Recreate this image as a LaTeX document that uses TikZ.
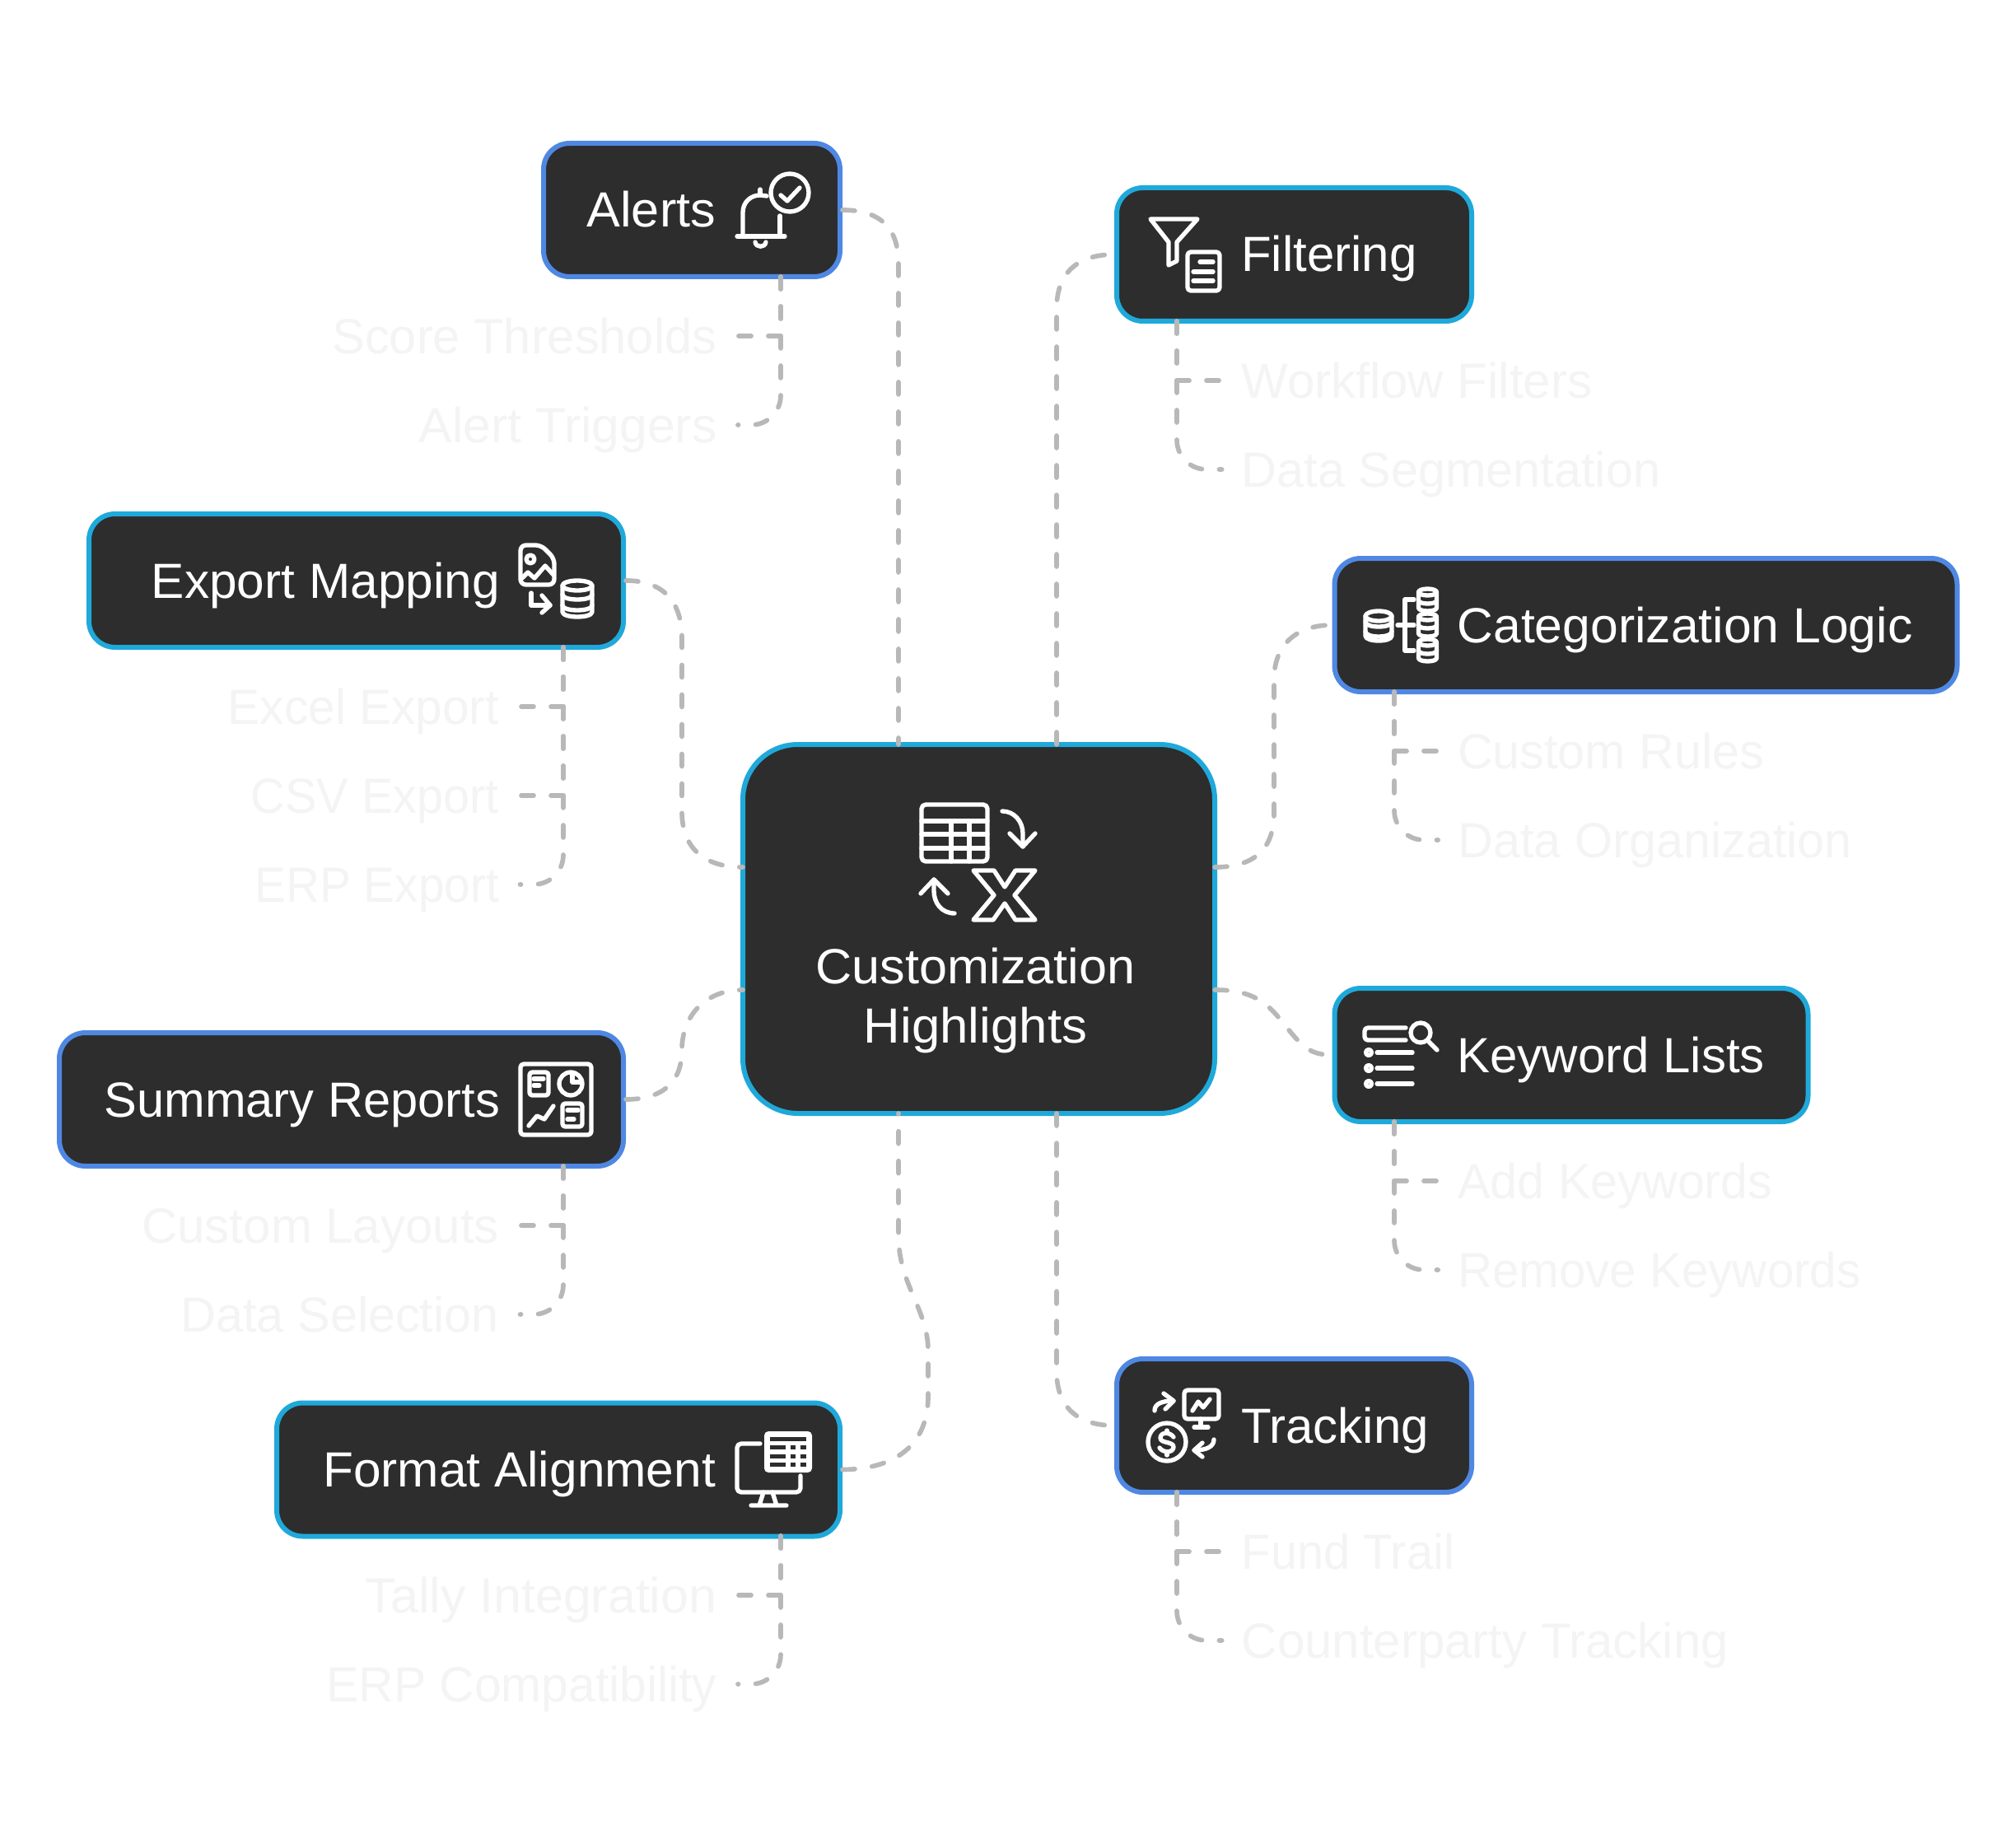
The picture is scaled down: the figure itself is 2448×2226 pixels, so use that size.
\documentclass[tikz,border=0pt]{standalone}
\usepackage{graphicx}
\usepackage{fontspec}
\setmainfont{Liberation Sans}
\definecolor{nodebg}{HTML}{2D2D2D}
\definecolor{blueedge}{HTML}{4F88E3}
\definecolor{cyanedge}{HTML}{1FA9DA}
\definecolor{linegray}{HTML}{B8B8B8}
\definecolor{fainttext}{HTML}{F4F4F4}
\newcommand\sx[2]{\scalebox{#1}[1]{#2}}
\newcommand\rtext[3]{\makebox[\dimexpr0.3pt*#1\relax][r]{#3\hspace{\dimexpr0.3pt*#2\relax}}}
\newcommand\ltext[3]{\makebox[\dimexpr0.3pt*#1\relax][l]{\hspace{\dimexpr0.3pt*#2\relax}#3}}
\newcommand\cyl[6]{%
  \draw[ic] ({#1},{#2+#5}) ellipse [x radius=#4,y radius=#5];
  \draw[ic] ({#1-#4},{#2+#5}) -- ({#1-#4},{#3-#5}) .. controls ({#1-#4},{#3+0.33*#5}) and ({#1+#4},{#3+0.33*#5}) .. ({#1+#4},{#3-#5}) -- ({#1+#4},{#2+#5});
  \foreach \yy in {#6} {\draw[ic] ({#1-#4},\yy) .. controls ({#1-#4},{\yy+1.33*#5}) and ({#1+#4},{\yy+1.33*#5}) .. ({#1+#4},\yy);}
}
\tikzset{
  tbox/.style={draw,fill=nodebg,line width=1.8pt,rounded corners=9.5pt,inner sep=0pt,minimum height=48.6pt,text=white,font=\fontsize{18}{21.6}\selectfont,text height=12.6pt,text depth=0pt},
  bluebox/.style={tbox,draw=blueedge},
  cyanbox/.style={tbox,draw=cyanedge},
  hubbox/.style={draw=cyanedge,fill=nodebg,line width=1.8pt,rounded corners=20pt,inner sep=0pt},
  hubtext/.style={text=white,font=\fontsize{18}{21.6}\selectfont,align=center,inner sep=0pt},
  faint/.style={text=fainttext,font=\fontsize{18}{21.6}\selectfont,inner sep=0pt,text height=12.6pt,text depth=0pt},
  conn/.style={draw=linegray,line width=1.7pt,line cap=round,dash pattern=on 4.5pt off 6.3pt},
  ic/.style={draw=white,line width=1.6pt,line cap=round,line join=round},
}
\begin{document}
\begin{tikzpicture}[x=0.3pt,y=-0.3pt]
\useasboundingbox (0,0) rectangle (2448,2226);
\fill[white] (0,0) rectangle (2448,2226);
% nodes
\node[hubbox,minimum width=171.9pt,minimum height=134.4pt] (hub) at (1188.5,1128) {};
\node[hubtext] (hubT) at (1184.5,1215) {\sx{1.02}{Customization}\\\sx{1.03}{Highlights}};
\node[bluebox,minimum width=108pt] (alerts) at (840,255) {\rtext{360}{151}{\sx{1.02}{Alerts}}};
\node[cyanbox,minimum width=129.3pt] (filter) at (1571.5,309) {\ltext{431}{151}{Filtering}};
\node[cyanbox,minimum width=194.7pt] (export) at (432.5,705) {\rtext{649}{150}{\sx{1.007}{Export Mapping}}};
\node[bluebox,minimum width=226.8pt] (cat) at (1998.5,759) {\ltext{756}{149}{\sx{1.011}{Categorization Logic}}};
\node[cyanbox,minimum width=172.5pt] (kw) at (1908,1281) {\ltext{575}{149}{Keyword Lists}};
\node[bluebox,minimum width=205.5pt] (summary) at (414.5,1335) {\rtext{685}{150}{\sx{.994}{Summary Reports}}};
\node[bluebox,minimum width=129.3pt] (track) at (1571.5,1731) {\ltext{431}{151}{Tracking}};
\node[cyanbox,minimum width=205.2pt] (format) at (678,1784.5) {\rtext{684}{151}{\sx{1.007}{Format Alignment}}};
% labels
\node[faint,anchor=east] (l1) at (871,408) {\sx{.993}{Score Thresholds}};
\node[faint,anchor=east] (l2) at (871,516) {\sx{1.01}{Alert Triggers}};
\node[faint,anchor=west] (l3) at (1507,462) {Workflow Filters};
\node[faint,anchor=west] (l4) at (1507,570) {\sx{.99}{Data Segmentation}};
\node[faint,anchor=east] (l5) at (606.5,858) {\sx{.977}{Excel Export}};
\node[faint,anchor=east] (l6) at (606.5,966) {\sx{.96}{CSV Export}};
\node[faint,anchor=east] (l7) at (606.5,1074) {\sx{.945}{ERP Export}};
\node[faint,anchor=west] (l8) at (1769.5,912) {\sx{.987}{Custom Rules}};
\node[faint,anchor=west] (l9) at (1769.5,1020) {\sx{.99}{Data Organization}};
\node[faint,anchor=east] (l10) at (606.5,1488) {Custom Layouts};
\node[faint,anchor=east] (l11) at (606.5,1596) {\sx{.99}{Data Selection}};
\node[faint,anchor=west] (l12) at (1769.5,1434) {\sx{.988}{Add Keywords}};
\node[faint,anchor=west] (l13) at (1769.5,1542) {\sx{.972}{Remove Keywords}};
\node[faint,anchor=east] (l14) at (871,1937) {\sx{1.015}{Tally Integration}};
\node[faint,anchor=east] (l15) at (871,2045) {\sx{.98}{ERP Compatibility}};
\node[faint,anchor=west] (l16) at (1507,1884) {\sx{.965}{Fund Trail}};
\node[faint,anchor=west] (l17) at (1507,1992) {Counterparty Tracking};
% attach points
\coordinate (hN1) at (1091,904); \coordinate (hN2) at (1283,904);
\coordinate (hS1) at (1091,1352); \coordinate (hS2) at (1283,1352);
\coordinate (hW1) at (902,1053); \coordinate (hW2) at (902,1202);
\coordinate (hE1) at (1475,1053); \coordinate (hE2) at (1475,1202);
\coordinate (bA) at (948,336); \coordinate (bF) at (1429,390); \coordinate (bE) at (684,786);
\coordinate (bC) at (1693,840); \coordinate (bK) at (1693,1362); \coordinate (bS) at (684,1416);
\coordinate (bFo) at (948,1865); \coordinate (bT) at (1429,1812);
% main connectors
\draw[conn] (alerts.east) .. controls (1067,255) and (1091,275) .. (1091,320) -- (hN1);
\draw[conn] (hN2) -- (1283,375) .. controls (1283,330) and (1310,309) .. (filter.west);
\draw[conn] (hE1) .. controls (1522,1053) and (1547,1032) .. (1547,987) -- (1547,825) .. controls (1547,785) and (1572,759) .. (cat.west);
\draw[conn] (hE2) .. controls (1527,1202) and (1542,1222) .. (1562,1247) .. controls (1582,1272) and (1592,1281) .. (kw.west);
\draw[conn] (export.east) .. controls (805,705) and (828,730) .. (828,775) -- (828,985) .. controls (828,1030) and (855,1053) .. (hW1);
\draw[conn] (summary.east) .. controls (800,1335) and (828,1318) .. (828,1275) .. controls (828,1235) and (855,1202) .. (hW2);
\draw[conn] (format.east) .. controls (1087,1784) and (1127,1755) .. (1127,1695) -- (1127,1640) .. controls (1127,1590) and (1091,1560) .. (1091,1500) -- (hS1);
\draw[conn] (hS2) -- (1283,1665) .. controls (1283,1710) and (1310,1731) .. (track.west);
% branch connectors
\draw[conn] (bA) |- ([xshift=7.5pt]l1.east);
\draw[conn] (bA) -- (948,480) .. controls (948,500) and (932,516) .. (912,516) -- ([xshift=7.5pt]l2.east);
\draw[conn] (bF) |- ([xshift=-7pt]l3.west);
\draw[conn] (bF) -- (1429,534) .. controls (1429,554) and (1445,570) .. (1465,570) -- ([xshift=-7pt]l4.west);
\draw[conn] (bE) |- ([xshift=7.5pt]l5.east);
\draw[conn] (bE) |- ([xshift=7.5pt]l6.east);
\draw[conn] (bE) -- (684,1038) .. controls (684,1058) and (668,1074) .. (648,1074) -- ([xshift=7.5pt]l7.east);
\draw[conn] (bC) |- ([xshift=-7pt]l8.west);
\draw[conn] (bC) -- (1693,984) .. controls (1693,1004) and (1709,1020) .. (1729,1020) -- ([xshift=-7pt]l9.west);
\draw[conn] (bS) |- ([xshift=7.5pt]l10.east);
\draw[conn] (bS) -- (684,1560) .. controls (684,1580) and (668,1596) .. (648,1596) -- ([xshift=7.5pt]l11.east);
\draw[conn] (bK) |- ([xshift=-7pt]l12.west);
\draw[conn] (bK) -- (1693,1506) .. controls (1693,1526) and (1709,1542) .. (1729,1542) -- ([xshift=-7pt]l13.west);
\draw[conn] (bFo) |- ([xshift=7.5pt]l14.east);
\draw[conn] (bFo) -- (948,2009) .. controls (948,2029) and (932,2045) .. (912,2045) -- ([xshift=7.5pt]l15.east);
\draw[conn] (bT) |- ([xshift=-7pt]l16.west);
\draw[conn] (bT) -- (1429,1956) .. controls (1429,1976) and (1445,1992) .. (1465,1992) -- ([xshift=-7pt]l17.west);
% hub icon
\draw[ic,rounded corners=1.5pt] (1119,977) rectangle (1199,1046);
\draw[ic] (1119,997)--(1199,997) (1119,1013)--(1199,1013) (1119,1030)--(1199,1030) (1155,997)--(1155,1046) (1177,997)--(1177,1046);
\draw[ic] (1217,985) .. controls (1232,985) and (1242,998) .. (1242,1012) -- (1242,1028);
\draw[ic] (1226,1012) -- (1242,1028) -- (1257,1012);
\draw[ic] (1159,1109) .. controls (1143,1109) and (1134,1096) .. (1134,1082) -- (1134,1068);
\draw[ic] (1118,1085) -- (1134,1068) -- (1151,1085);
\draw[ic] (1182,1057) -- (1207,1057) -- (1220,1077) -- (1233,1057) -- (1257,1057) -- (1232,1087) -- (1257,1117) -- (1233,1117) -- (1220,1097) -- (1206,1117) -- (1182,1117) -- (1207,1087) -- cycle;
% alerts icon
\draw[ic] (895,287) -- (953,287);
\draw[ic] (902,287) -- (902,258) .. controls (902,245) and (912,237) .. (923,237) -- (931,238);
\draw[ic] (923,230) -- (923,237);
\draw[ic] (947,262) -- (947,287);
\draw[ic] (917,294) .. controls (918,301) and (929,301) .. (930,294);
\draw[ic] (959,234) circle [radius=23];
\draw[ic] (948,237) -- (956,244) -- (971,228);
% filter icon
\draw[ic] (1397,266) -- (1454,266) -- (1429,294) -- (1429,317) -- (1419,322) -- (1419,294) -- cycle;
\draw[ic,rounded corners=1.2pt] (1442,306) rectangle (1481,353);
\draw[ic] (1457,318) -- (1473,318) (1449,330) -- (1473,330) (1449,341) -- (1473,341);
% categorization icon
\cyl{1674}{742}{778}{16}{6}{755,767}
\cyl{1733.5}{715}{742}{11}{4}{729}
\cyl{1733.5}{745}{773}{11}{4}{759}
\cyl{1733.5}{776}{803}{11}{4}{790}
\draw[ic] (1717,728) -- (1706,728) -- (1706,790) -- (1717,790);
\draw[ic] (1697,759) -- (1717,759);
% export icon
\draw[ic,rounded corners=2pt] (632,662) -- (657,662) -- (673,678) -- (673,710) -- (632,710) -- cycle;
\draw[ic] (644,679) circle [radius=5];
\draw[ic] (634,702) -- (641,695) -- (649,702) -- (662,687) -- (672,698);
\draw[ic] (645,720) -- (645,735) -- (668,735);
\draw[ic] (658,723) -- (668,735) -- (658,744);
\cyl{701}{705}{749}{18}{6}{722,735}
% summary icon
\draw[ic,rounded corners=1.2pt] (632,1292) rectangle (718,1378);
\draw[ic,rounded corners=1pt] (643,1302) rectangle (666,1330);
\draw[ic] (648,1310) -- (660,1310) (648,1318) -- (655,1318);
\draw[ic] (693,1316) circle [radius=14];
\draw[ic] (695,1304) -- (695,1314) -- (705,1314);
\draw[ic,rounded corners=1pt] (683,1340) rectangle (707,1368);
\draw[ic] (689,1348) -- (702,1348) (689,1359) -- (697,1359);
\draw[ic] (642,1367) -- (652,1355) -- (661,1359) -- (672,1343);
% keyword icon
\draw[ic,rounded corners=1.2pt] (1707,1248) -- (1657,1248) -- (1657,1263) -- (1707,1263);
\draw[ic] (1725,1254) circle [radius=12];
\draw[ic] (1735,1265) -- (1745,1275);
\foreach \yy in {1278,1297,1316} {
  \draw[ic] (1662,\yy) circle [radius=3.5];
  \draw[ic] (1672,\yy) -- (1715,\yy);
}
% tracking icon
\draw[ic,rounded corners=1.2pt] (1438,1688) rectangle (1480,1723);
\draw[ic] (1458,1723) -- (1458,1733) (1450,1733) -- (1467,1733);
\draw[ic] (1448,1713) -- (1455,1702) -- (1461,1709) -- (1469,1699);
\draw[ic] (1417,1751) circle [radius=23];
\draw[ic] (1425,1745) .. controls (1420,1738) and (1409,1739) .. (1409,1746) .. controls (1409,1753) and (1425,1750) .. (1425,1757) .. controls (1425,1764) and (1413,1765) .. (1408,1758);
\draw[ic] (1417,1737) -- (1417,1740) (1417,1763) -- (1417,1767);
\draw[ic] (1402,1713) .. controls (1402,1705) and (1410,1701) .. (1425,1701);
\draw[ic] (1413,1692) -- (1425,1701) -- (1415,1711);
\draw[ic] (1474,1748) .. controls (1474,1756) and (1466,1761) .. (1450,1761);
\draw[ic] (1460,1752) -- (1450,1761) -- (1460,1769);
% format icon
\draw[ic,rounded corners=1.5pt] (923,1753) -- (895,1753) -- (895,1812) -- (972,1812) -- (972,1792);
\draw[ic] (927,1812) -- (922,1828) (938,1812) -- (943,1828) (912,1828) -- (955,1828);
\fill[white,rounded corners=1.5pt] (928,1738) rectangle (986,1788);
\fill[nodebg] (935,1745) rectangle (979,1750);
\foreach \yy in {1755,1766,1776} {
  \fill[nodebg] (935,\yy) rectangle (954,\yy+5);
  \fill[nodebg] (960,\yy) rectangle (966,\yy+5);
  \fill[nodebg] (972,\yy) rectangle (979,\yy+5);
}
\end{tikzpicture}
\end{document}
